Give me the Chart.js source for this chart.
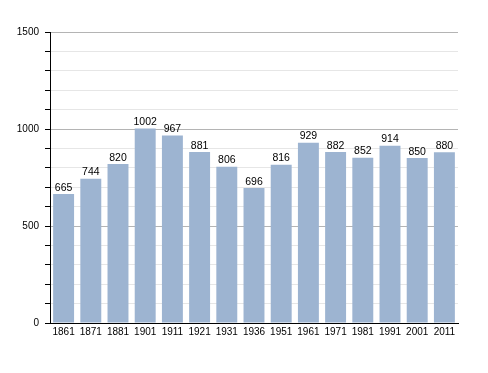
<!DOCTYPE html>
<html>
<head>
<meta charset="utf-8">
<script src="https://cdn.jsdelivr.net/npm/chart.js@4.4.1/dist/chart.umd.min.js"></script>
<style>
  html, body { margin: 0; padding: 0; background: #fff; }
  #wrap { width: 488px; height: 373px; }
</style>
</head>
<body>
<div id="wrap"><canvas id="c" width="488" height="373"></canvas></div>
<script>
// census years and population
const years = ['1861','1871','1881','1901','1911','1921','1931','1936','1951','1961','1971','1981','1991','2001','2011'];
const population = [665, 744, 820, 1002, 967, 881, 806, 696, 816, 929, 882, 852, 914, 850, 880];
const yMax = 1500;
const yStep = 100;
const yLabelEvery = 500;

const FONT = { family: '"Liberation Sans", Arial, sans-serif', size: 10 };

// value above each bar
const barLabels = {
  id: 'barLabels',
  afterDatasetsDraw(chart) {
    const ctx = chart.ctx;
    const meta = chart.getDatasetMeta(0);
    ctx.save();
    ctx.font = '10.5px "Liberation Sans", Arial, sans-serif';
    ctx.fillStyle = '#000';
    ctx.textAlign = 'center';
    ctx.textBaseline = 'bottom';
    meta.data.forEach((bar, i) => {
      ctx.fillText(String(population[i]), bar.x, bar.y - 1);
    });
    ctx.restore();
  }
};

new Chart(document.getElementById('c'), {
  type: 'bar',
  data: {
    labels: years,
    datasets: [{
      data: population,
      backgroundColor: '#9db4d1',
      borderWidth: 0,
      barPercentage: 0.77,
      categoryPercentage: 1
    }]
  },
  options: {
    responsive: false,
    animation: false,
    devicePixelRatio: 1,
    layout: { padding: { top: 32, right: 30, left: 0, bottom: 0 } },
    plugins: { legend: { display: false }, tooltip: { enabled: false } },
    scales: {
      x: {
        grid: { display: false, drawTicks: false },
        border: { color: '#000', width: 1 },
        ticks: { color: '#000', font: FONT, padding: 3, maxRotation: 0, autoSkip: false },
        afterFit(s) { s.height = 50; }
      },
      y: {
        min: 0, max: yMax,
        grid: {
          color: c => (c.tick && c.tick.value % yLabelEvery === 0) ? '#b4b4b4' : '#e6e6e6',
          tickColor: '#000',
          tickLength: 5,
          drawOnChartArea: true
        },
        border: { color: '#000', width: 1 },
        ticks: {
          stepSize: yStep,
          color: '#000',
          font: FONT,
          padding: 6,
          callback: v => (v % yLabelEvery === 0 ? String(v) : '')
        },
        afterFit(s) { s.width = 50; }
      }
    }
  },
  plugins: [barLabels]
});
</script>
</body>
</html>
